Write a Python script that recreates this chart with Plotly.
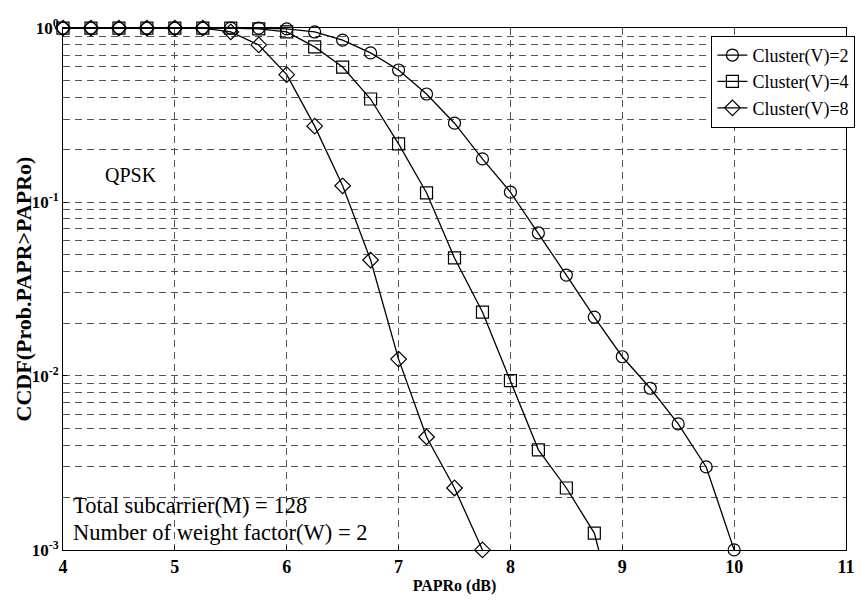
import plotly.graph_objects as go

# PAPR threshold (dB) sample points
papr_v2 = [4.0, 4.25, 4.5, 4.75, 5.0, 5.25, 5.5, 5.75, 6.0, 6.25, 6.5, 6.75, 7.0,
           7.25, 7.5, 7.75, 8.0, 8.25, 8.5, 8.75, 9.0, 9.25, 9.5, 9.75, 10.0]
ccdf_v2 = [1.0, 1.0, 1.0, 1.0, 1.0, 1.0, 1.0, 1.0, 0.99, 0.95, 0.853, 0.72, 0.574,
           0.418, 0.284, 0.177, 0.114, 0.0664, 0.038, 0.0218, 0.0129, 0.0085, 0.0053,
           0.0030, 0.001]

papr_v4 = [4.0, 4.25, 4.5, 4.75, 5.0, 5.25, 5.5, 5.75, 6.0, 6.25, 6.5, 6.75, 7.0,
           7.25, 7.5, 7.75, 8.0, 8.25, 8.5, 8.75, 9.0]
ccdf_v4 = [1.0, 1.0, 1.0, 1.0, 1.0, 1.0, 1.0, 0.99, 0.95, 0.78, 0.597, 0.391, 0.216,
           0.113, 0.0477, 0.0233, 0.0094, 0.00376, 0.00227, 0.00125, 0.0003]

papr_v8 = [4.0, 4.25, 4.5, 4.75, 5.0, 5.25, 5.5, 5.75, 6.0, 6.25, 6.5, 6.75, 7.0,
           7.25, 7.5, 7.75]
ccdf_v8 = [1.0, 1.0, 1.0, 1.0, 1.0, 1.0, 0.95, 0.80, 0.54, 0.273, 0.124, 0.0464, 0.0125,
           0.00446, 0.00227, 0.001]

series_names = ["Cluster(V)=2", "Cluster(V)=4", "Cluster(V)=8"]
series_symbols = ["circle-open", "square-open", "diamond-open"]

y_tickvals = [1e-3, 1e-2, 1e-1, 1]
y_ticktext = ["10<sup>-3</sup>", "10<sup>-2</sup>", "10<sup>-1</sup>", "10<sup>0</sup>"]
x_tickvals = [4, 5, 6, 7, 8, 9, 10, 11]

FONT = "Liberation Serif"
GRID_DASH = "7px,5px"
GRID_COLOR = "#555555"

fig = go.Figure()
for xs, ys, name, sym in zip([papr_v2, papr_v4, papr_v8],
                             [ccdf_v2, ccdf_v4, ccdf_v8],
                             series_names, series_symbols):
    fig.add_trace(go.Scatter(
        x=xs, y=ys, name=name, mode="lines+markers",
        line=dict(color="black", width=1.3),
        marker=dict(symbol=sym, size=12, color="black",
                    line=dict(color="black", width=1.2)),
        cliponaxis=False,
    ))

# minor gridlines at 2..9 within each decade
minor_vals = [m * 10.0 ** e for e in range(-3, 0) for m in range(2, 10)]

fig.update_xaxes(
    range=[4, 11], tickmode="array", tickvals=x_tickvals,
    showgrid=True, gridcolor=GRID_COLOR, gridwidth=1, griddash=GRID_DASH,
    showline=True, mirror=True, linecolor="black", linewidth=1,
    ticks="inside", ticklen=4, tickcolor="black",
    zeroline=False,
    tickfont=dict(family=FONT, size=18, color="black", weight="bold"),
    title=dict(text="PAPRo (dB)", standoff=4,
               font=dict(family=FONT, size=16, color="black", weight="bold")),
)
fig.update_yaxes(
    type="log", range=[-3.0005, 0.0005],
    tickmode="array", tickvals=y_tickvals, ticktext=y_ticktext,
    showgrid=True, gridcolor=GRID_COLOR, gridwidth=1, griddash=GRID_DASH,
    minor=dict(tickmode="array", tickvals=minor_vals, showgrid=True,
               gridcolor=GRID_COLOR, gridwidth=1, griddash=GRID_DASH),
    showline=True, mirror=True, linecolor="black", linewidth=1,
    ticks="inside", ticklen=4, tickcolor="black",
    zeroline=False,
    tickfont=dict(family=FONT, size=17, color="black", weight="bold"),
)

# y-axis title placed as a rotated label
fig.add_annotation(text="CCDF(Prob.PAPR>PAPRo)", xref="paper", yref="paper",
                   x=-0.0505, y=0.5, xanchor="center", yanchor="middle",
                   textangle=-90, showarrow=False,
                   font=dict(family=FONT, size=22, color="black", weight="bold"))

fig.add_annotation(text="QPSK", xref="paper", yref="paper", x=0.087, y=0.718,
                   xanchor="center", yanchor="middle", showarrow=False,
                   font=dict(family=FONT, size=20, color="black"))
fig.add_annotation(text="Total subcarrier(M) = 128", xref="paper", yref="paper",
                   x=0.01, y=0.086, xanchor="left", yanchor="middle", showarrow=False,
                   font=dict(family=FONT, size=22.5, color="black"))
fig.add_annotation(text="Number of weight factor(W) = 2", xref="paper", yref="paper",
                   x=0.01, y=0.034, xanchor="left", yanchor="middle", showarrow=False,
                   font=dict(family=FONT, size=22.5, color="black"))

fig.update_layout(
    width=865, height=602,
    margin=dict(l=63, r=10, t=28, b=52),
    paper_bgcolor="white", plot_bgcolor="white",
    legend=dict(x=1.012, y=0.985, xanchor="right", yanchor="top",
                bgcolor="white", bordercolor="black", borderwidth=1,
                font=dict(family=FONT, size=18, color="black"),
                itemwidth=30, tracegroupgap=0),
    font=dict(family=FONT, color="black"),
)

fig.write_html("out.html")
